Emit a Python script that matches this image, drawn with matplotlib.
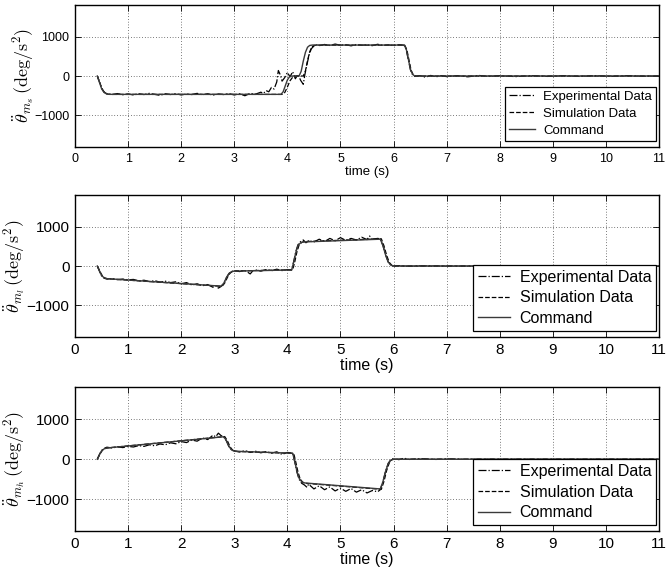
import matplotlib
matplotlib.use('Agg')
import matplotlib.pyplot as plt
import numpy as np

plt.rcParams['font.family'] = ['Liberation Sans', 'DejaVu Sans']
plt.rcParams['mathtext.fontset'] = 'cm'

# (time, value) pares, en deg/s^2
cmd_s = [(0.42, 0), (0.46, -160), (0.5, -320), (0.55, -420), (0.6, -455), (0.65, -465),
         (3.88, -465), (3.92, -400), (3.96, -250), (4.0, -100), (4.04, -20), (4.08, 0),
         (4.22, 0), (4.26, 120), (4.3, 380), (4.34, 600), (4.38, 730), (4.42, 775),
         (4.47, 785), (6.2, 785), (6.24, 680), (6.28, 420), (6.32, 160), (6.36, 40),
         (6.4, 0), (11.0, 0)]
sim_s = [(0.42, 0), (0.47, -180), (0.52, -360), (0.57, -440), (0.63, -462), (0.7, -466),
         (3.9, -466), (3.95, -420), (4.0, -280), (4.05, -120), (4.1, -30), (4.15, 0),
         (4.3, 0), (4.34, 130), (4.38, 390), (4.42, 610), (4.46, 735), (4.5, 775),
         (4.56, 782), (6.21, 782), (6.25, 670), (6.29, 410), (6.33, 150), (6.37, 35),
         (6.42, 0), (11.0, 0)]
exp_s = [(0.42, 0), (0.46, -150), (0.5, -300), (0.55, -410), (0.6, -450),
         (0.7, -470), (0.8, -445), (0.9, -475), (1.0, -455), (1.1, -480), (1.2, -450),
         (1.3, -470), (1.4, -440), (1.5, -465), (1.6, -490), (1.7, -450), (1.8, -470),
         (1.9, -445), (2.0, -480), (2.1, -455), (2.2, -470), (2.3, -440), (2.4, -475),
         (2.5, -450), (2.6, -485), (2.7, -455), (2.8, -470), (2.9, -445), (3.0, -480),
         (3.1, -450), (3.2, -500), (3.3, -440), (3.4, -460), (3.5, -410), (3.55, -440),
         (3.6, -370), (3.65, -400), (3.7, -290), (3.75, -330), (3.8, -150), (3.83, 140),
         (3.87, 20), (3.9, -130), (3.95, -40), (4.0, 90), (4.05, -20), (4.1, 110),
         (4.15, -70), (4.2, 40), (4.25, -110), (4.3, -210), (4.33, 40), (4.37, 300),
         (4.41, 540), (4.45, 690), (4.5, 760), (4.55, 790), (4.6, 770), (4.7, 800),
         (4.8, 775), (4.9, 810), (5.0, 780), (5.1, 795), (5.2, 765), (5.3, 800), (5.4, 780),
         (5.5, 790), (5.6, 770), (5.7, 805), (5.8, 775), (5.9, 790), (6.0, 770), (6.1, 795),
         (6.2, 780), (6.24, 660), (6.28, 400), (6.32, 150), (6.36, 30), (6.4, -10),
         (6.5, 10), (6.6, -30), (6.7, 15), (6.8, -20), (6.9, 10), (7.0, -15), (7.2, 10),
         (7.4, -20), (7.6, 15), (7.8, -10), (8.0, 10), (8.3, -15), (8.6, 10), (8.9, -10),
         (9.2, 10), (9.5, -10), (9.8, 10), (10.1, -10), (10.4, 10), (10.7, -5), (11.0, 0)]

cmd_l = [(0.42, 0), (0.46, -120), (0.5, -240), (0.55, -300), (0.6, -320), (2.75, -510),
         (2.8, -440), (2.85, -300), (2.9, -190), (2.95, -140), (3.0, -130), (4.08, -100),
         (4.12, 100), (4.16, 350), (4.2, 520), (4.25, 590), (4.3, 610), (5.75, 680),
         (5.8, 520), (5.85, 280), (5.9, 100), (5.95, 20), (6.0, 0), (11.0, 0)]
sim_l = [(0.42, 0), (0.47, -140), (0.52, -260), (0.57, -310), (0.63, -325), (2.77, -515),
         (2.82, -430), (2.87, -290), (2.92, -180), (2.97, -135), (3.02, -125), (4.1, -95),
         (4.14, 110), (4.18, 360), (4.22, 530), (4.27, 600), (4.32, 620), (5.77, 690),
         (5.82, 510), (5.87, 270), (5.92, 90), (5.97, 15), (6.02, 0), (11.0, 0)]
exp_l = [(0.42, 0), (0.46, -130), (0.5, -250), (0.55, -310), (0.6, -330),
         (0.7, -320), (0.8, -345), (0.9, -330), (1.0, -350), (1.1, -340), (1.2, -375),
         (1.3, -360), (1.4, -395), (1.5, -370), (1.6, -410), (1.7, -385), (1.8, -420),
         (1.9, -400), (2.0, -450), (2.1, -420), (2.2, -480), (2.3, -450), (2.4, -500),
         (2.5, -470), (2.6, -540), (2.65, -500), (2.7, -560), (2.75, -520), (2.8, -450),
         (2.85, -300), (2.9, -190), (2.95, -140), (3.0, -120), (3.1, -140), (3.2, -110),
         (3.3, -200), (3.35, -120), (3.4, -100), (3.5, -130), (3.6, -90), (3.7, -120),
         (3.8, -80), (3.9, -115), (4.0, -90), (4.08, -100), (4.12, 120), (4.16, 370),
         (4.2, 540), (4.25, 620), (4.3, 660), (4.35, 590), (4.4, 640), (4.5, 610),
         (4.6, 680), (4.7, 620), (4.8, 700), (4.9, 640), (5.0, 720), (5.1, 650),
         (5.2, 700), (5.3, 660), (5.4, 730), (5.5, 670), (5.55, 760), (5.6, 680),
         (5.7, 700), (5.75, 690), (5.8, 520), (5.85, 280), (5.9, 100), (5.95, 20),
         (6.0, 0), (6.1, 10), (6.3, -5), (6.5, 5), (7.0, 0), (8.0, 0), (11.0, 0)]

cmd_h = [(0.42, 0), (0.46, 110), (0.5, 210), (0.55, 260), (0.6, 280), (2.8, 560),
         (2.85, 470), (2.9, 320), (2.95, 230), (3.0, 200), (4.1, 150), (4.14, -60),
         (4.18, -300), (4.22, -470), (4.27, -560), (4.32, -590), (5.75, -740),
         (5.8, -560), (5.85, -300), (5.9, -110), (5.95, -20), (6.0, 0), (11.0, 0)]
sim_h = [(0.42, 0), (0.47, 130), (0.52, 230), (0.57, 270), (0.63, 285), (2.82, 565),
         (2.87, 460), (2.92, 310), (2.97, 225), (3.02, 195), (4.12, 145), (4.16, -80),
         (4.2, -320), (4.24, -490), (4.29, -575), (4.34, -600), (5.77, -750),
         (5.82, -550), (5.87, -280), (5.92, -90), (5.97, -10), (6.02, 0), (11.0, 0)]
exp_h = [(0.42, 0), (0.46, 120), (0.5, 220), (0.55, 270), (0.6, 300),
         (0.7, 280), (0.8, 310), (0.9, 290), (1.0, 320), (1.1, 305), (1.2, 340),
         (1.3, 320), (1.4, 360), (1.5, 335), (1.6, 380), (1.7, 360), (1.8, 410),
         (1.9, 385), (2.0, 440), (2.1, 415), (2.2, 480), (2.3, 450), (2.4, 530),
         (2.5, 490), (2.6, 600), (2.65, 560), (2.7, 650), (2.75, 590), (2.8, 560),
         (2.85, 460), (2.9, 310), (2.95, 230), (3.0, 210), (3.1, 180), (3.2, 215),
         (3.3, 170), (3.4, 200), (3.5, 160), (3.6, 190), (3.7, 150), (3.8, 185),
         (3.9, 120), (4.0, 170), (4.1, 150), (4.14, -70), (4.18, -320), (4.22, -500),
         (4.27, -600), (4.32, -640), (4.37, -700), (4.4, -620), (4.5, -740), (4.6, -660),
         (4.7, -760), (4.8, -690), (4.9, -790), (5.0, -720), (5.1, -800), (5.2, -730),
         (5.3, -820), (5.4, -760), (5.5, -840), (5.6, -780), (5.7, -810), (5.75, -760),
         (5.8, -560), (5.85, -300), (5.9, -100), (5.95, -10), (6.0, 20), (6.1, -10),
         (6.2, 25), (6.3, -5), (6.5, 15), (6.8, -5), (7.0, 10), (7.3, 0), (8.0, 0), (11.0, 0)]

ylabels = [r'$\ddot{\theta}_{m_s}\,(\mathrm{deg}/\mathrm{s}^2)$',
           r'$\ddot{\theta}_{m_l}\,(\mathrm{deg}/\mathrm{s}^2)$',
           r'$\ddot{\theta}_{m_h}\,(\mathrm{deg}/\mathrm{s}^2)$']
legend_labels = ['Experimental Data', 'Simulation Data', 'Command']
xticks = list(range(0, 12))
yticks = [-1000, 0, 1000]

paneles = [(exp_s, sim_s, cmd_s), (exp_l, sim_l, cmd_l), (exp_h, sim_h, cmd_h)]

fig = plt.figure(figsize=(6.71, 5.77), dpi=100)
# posiciones de los ejes [left, bottom, width, height]
posiciones = [[0.1118, 0.7452, 0.8703, 0.2461],
              [0.1118, 0.4159, 0.8703, 0.2461],
              [0.1118, 0.0789, 0.8703, 0.2504]]
# tamaños de letra: el panel superior es más pequeño
tam_tick = [9, 11, 11]
tam_xlab = [9.5, 11.5, 11.5]
tam_leg = [9.5, 11.5, 11.5]
tam_ylab = [13, 13, 13]
ylab_x = [-0.066, -0.083, -0.083]

for i, (exp, sim, cmd) in enumerate(paneles):
    ax = fig.add_axes(posiciones[i])
    te, ve = zip(*exp)
    ts, vs = zip(*sim)
    tc, vc = zip(*cmd)
    ax.plot(te, ve, color='black', linestyle='-.', linewidth=0.9, label=legend_labels[0])
    ax.plot(ts, vs, color='black', linestyle='--', linewidth=0.9, label=legend_labels[1])
    ax.plot(tc, vc, color='#3a3a3a', linestyle='-', linewidth=1.0, label=legend_labels[2])

    ax.set_xlim(0, 11)
    ax.set_ylim(-1800, 1800)
    ax.set_xticks(xticks)
    ax.set_yticks(yticks)
    ax.set_yticklabels(['\u22121000', '0', '1000'])
    ax.tick_params(direction='in', length=4, width=0.6, top=True, right=True,
                   labelsize=tam_tick[i], pad=4)
    ax.grid(True, color='black', linestyle=(0, (1, 3)), linewidth=0.5)
    for sp in ax.spines.values():
        sp.set_linewidth(1.0)

    ax.set_xlabel('time (s)', fontsize=tam_xlab[i], labelpad=1)
    ax.set_ylabel(ylabels[i], fontsize=tam_ylab[i])
    ax.yaxis.set_label_coords(ylab_x[i], 0.5)

    leg = ax.legend(loc='lower right', bbox_to_anchor=(0.995, 0.045), borderaxespad=0,
                    fontsize=tam_leg[i], fancybox=False, framealpha=1, edgecolor='black',
                    handlelength=2.0, handletextpad=0.6, labelspacing=0.35,
                    borderpad=0.3)
    leg.get_frame().set_linewidth(0.9)

plt.savefig('out.png', dpi=100, facecolor='white')
